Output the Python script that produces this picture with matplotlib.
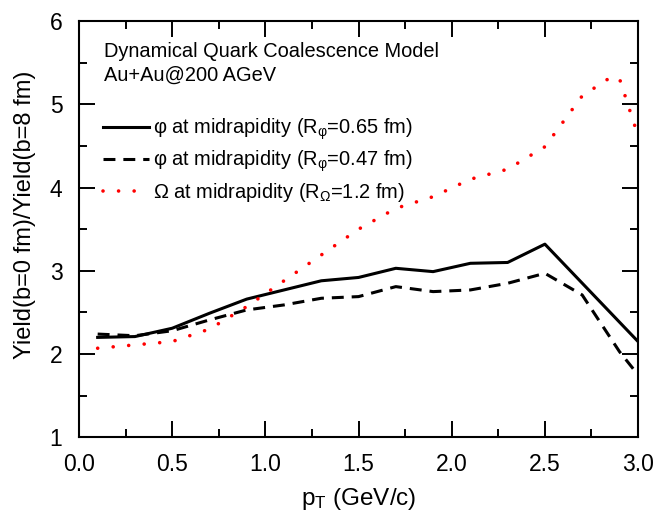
import matplotlib
matplotlib.use("Agg")
import matplotlib.pyplot as plt
from matplotlib.ticker import MultipleLocator, FormatStrFormatter

plt.rcParams['font.family'] = ['Liberation Sans', 'DejaVu Sans']
plt.rcParams['mathtext.fontset'] = 'custom'
plt.rcParams['mathtext.rm'] = 'Liberation Sans'
plt.rcParams['mathtext.it'] = 'Liberation Sans:italic'
plt.rcParams['mathtext.bf'] = 'Liberation Sans:bold'

# data
pt_phi = [0.1, 0.3, 0.5, 0.7, 0.9, 1.1, 1.3, 1.5, 1.7, 1.9, 2.1, 2.3, 2.5, 3.0]
phi_065 = [2.20, 2.21, 2.31, 2.49, 2.66, 2.77, 2.88, 2.92, 3.03, 2.99, 3.09, 3.10, 3.32, 2.15]

pt_phi2 = [0.1, 0.3, 0.5, 0.7, 0.9, 1.1, 1.3, 1.5, 1.7, 1.9, 2.1, 2.3, 2.5, 2.7, 2.9, 3.0]
phi_047 = [2.24, 2.22, 2.28, 2.41, 2.53, 2.59, 2.67, 2.69, 2.81, 2.75, 2.77, 2.85, 2.97, 2.71, 2.03, 1.75]

pt_omega = [0.1, 0.3, 0.5, 0.7, 0.9, 1.1, 1.3, 1.5, 1.7, 1.9, 2.1, 2.3, 2.5, 2.7, 2.85, 2.9, 3.0]
omega_12 = [2.07, 2.11, 2.15, 2.30, 2.57, 2.88, 3.19, 3.50, 3.75, 3.89, 4.10, 4.22, 4.49, 5.10, 5.32, 5.31, 4.62]

labels = [r"φ at midrapidity (R$_{\mathregular{φ}}$=0.65 fm)",
          r"φ at midrapidity (R$_{\mathregular{φ}}$=0.47 fm)",
          r"Ω at midrapidity (R$_{\mathregular{Ω}}$=1.2 fm)"]

fig = plt.figure(figsize=(6.68, 5.14), dpi=100)
ax = fig.add_axes([0.1183, 0.1492, 0.8369, 0.8099])

ax.plot(pt_phi, phi_065, color='black', lw=2.2, label=labels[0])
ax.plot(pt_phi2, phi_047, color='black', lw=2.2, dashes=(3.9, 2.6), label=labels[1])
ax.plot(pt_omega, omega_12, color='red', lw=2.6, dashes=(0.01, 4.3),
        dash_capstyle='round', label=labels[2])

ax.set_xlim(0, 3.0)
ax.set_ylim(1, 6)
ax.xaxis.set_major_locator(MultipleLocator(0.5))
ax.xaxis.set_minor_locator(MultipleLocator(0.25))
ax.yaxis.set_major_locator(MultipleLocator(1))
ax.yaxis.set_minor_locator(MultipleLocator(0.5))
ax.xaxis.set_major_formatter(FormatStrFormatter('%.1f'))
ax.tick_params(which='both', direction='in', top=True, right=True, width=1.4)
ax.tick_params(which='major', length=11.5, labelsize=16.5)
ax.tick_params(axis='x', which='major', pad=11)
ax.tick_params(axis='y', which='major', pad=12)
ax.tick_params(which='minor', length=5.8)
for s in ax.spines.values():
    s.set_linewidth(1.5)

ax.set_xlabel(r"p$_\mathregular{T}$ (GeV/c)", fontsize=17.5)
ax.set_ylabel("Yield(b=0 fm)/Yield(b=8 fm)", fontsize=17)
ax.yaxis.set_label_coords(-0.077, 0.534)
ax.xaxis.set_label_coords(0.5, -0.117)

ax.text(0.045, 0.9135, "Dynamical Quark Coalescence Model", transform=ax.transAxes,
        fontsize=14.4, va='baseline', ha='left')
ax.text(0.045, 0.856, "Au+Au@200 AGeV", transform=ax.transAxes,
        fontsize=14.4, va='baseline', ha='left')

ax.legend(loc='upper left', bbox_to_anchor=(0.043, 0.771), frameon=False,
          fontsize=14.4, handlelength=2.3, handletextpad=0.2,
          labelspacing=0.33, borderpad=0, borderaxespad=0)

fig.savefig("out.png", dpi=100)
